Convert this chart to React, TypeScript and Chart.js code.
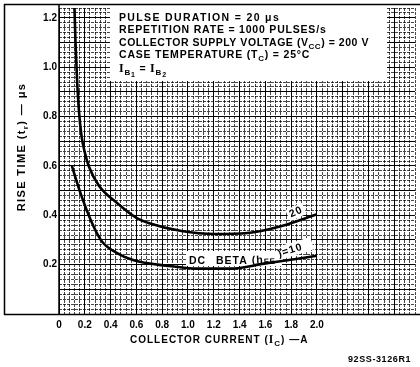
import React, { useEffect, useRef } from 'react';
import { Chart, registerables } from 'chart.js';

Chart.register(...registerables);

// ---- data ----
const currentBeta20 = [0.12, 0.128, 0.14, 0.155, 0.175, 0.2, 0.23, 0.31, 0.45, 0.6, 0.7, 0.95, 1.21, 1.46, 1.72, 2.0];
const riseBeta20 = [1.24, 1.1, 0.95, 0.82, 0.72, 0.655, 0.6, 0.52, 0.45, 0.39, 0.368, 0.336, 0.324, 0.328, 0.356, 0.404];
const currentBeta10 = [0.1, 0.16, 0.25, 0.33, 0.44, 0.58, 0.83, 1.08, 1.33, 1.59, 1.85, 2.0];
const riseBeta10 = [0.6, 0.5, 0.376, 0.296, 0.25, 0.218, 0.196, 0.184, 0.184, 0.204, 0.224, 0.236];

const xTickLabels = ['0', '0.2', '0.4', '0.6', '0.8', '1.0', '1.2', '1.4', '1.6', '1.8', '2.0'];
const yTickLabels = ['', '0.2', '0.4', '0.6', '0.8', '1.0', '1.2'];

const SANS = "'Liberation Sans', Arial, sans-serif";
const SERIF = "'Liberation Serif', 'Times New Roman', serif";

type Seg = { t: string; f: string; dy?: number };

function segWidth(ctx: CanvasRenderingContext2D, segs: Seg[]) {
  let w = 0;
  for (const s of segs) {
    ctx.font = s.f;
    w += ctx.measureText(s.t).width;
  }
  return w;
}

function drawSegs(ctx: CanvasRenderingContext2D, x: number, y: number, segs: Seg[]) {
  let cx = x;
  for (const s of segs) {
    ctx.font = s.f;
    ctx.fillText(s.t, cx, y + (s.dy || 0));
    cx += ctx.measureText(s.t).width;
  }
}

const M = `bold 10.5px ${SANS}`;
const SUB = `bold 8px ${SANS}`;
const SUB2 = `bold 7px ${SANS}`;
const IFONT = `bold 12px ${SERIF}`;

const annotations = {
  id: 'annotations',
  beforeDraw(chart: any) {
    const ctx = chart.ctx as CanvasRenderingContext2D;
    ctx.save();
    ctx.fillStyle = '#fff';
    ctx.fillRect(0, 0, chart.width, chart.height);
    ctx.restore();
  },
  beforeDatasetsDraw(chart: any) {
    const ctx = chart.ctx as CanvasRenderingContext2D;
    ctx.save();
    ctx.fillStyle = '#fff';
    // conditions box
    ctx.fillRect(110, 5, 277, 76);
    // label backgrounds
    ctx.fillRect(186, 251, 96, 15);
    ctx.save();
    ctx.translate(298, 248);
    ctx.rotate(-0.3);
    ctx.fillRect(-16, -7, 31, 13);
    ctx.restore();
    ctx.save();
    ctx.translate(296, 212);
    ctx.rotate(-0.42);
    ctx.fillRect(-9, -6, 18, 12);
    ctx.restore();
    ctx.restore();
  },
  afterDatasetsDraw(chart: any) {
    const ctx = chart.ctx as CanvasRenderingContext2D;
    const ls = (v: string) => {
      (ctx as any).letterSpacing = v;
    };
    ctx.save();
    ctx.fillStyle = '#000';
    ctx.textBaseline = 'alphabetic';
    ctx.textAlign = 'left';

    // conditions text
    const x0 = 119;
    ls('1.35px');
    drawSegs(ctx, x0, 21, [{ t: 'PULSE DURATION = 20 \u03bcs', f: M }]);
    ls('0.8px');
    drawSegs(ctx, x0, 33, [{ t: 'REPETITION RATE = 1000 PULSES/s', f: M }]);
    ls('0.55px');
    drawSegs(ctx, x0, 45.5, [
      { t: 'COLLECTOR SUPPLY VOLTAGE (V', f: M },
      { t: 'CC', f: SUB, dy: 3 },
      { t: ') = 200 V', f: M },
    ]);
    ls('0.8px');
    drawSegs(ctx, x0, 58, [
      { t: 'CASE TEMPERATURE (T', f: M },
      { t: 'C', f: SUB, dy: 3 },
      { t: ') = 25\u00b0C', f: M },
    ]);
    drawSegs(ctx, x0, 72, [
      { t: 'I', f: IFONT },
      { t: 'B', f: SUB, dy: 3 },
      { t: '1', f: SUB2, dy: 5 },
      { t: ' = ', f: M },
      { t: 'I', f: IFONT },
      { t: 'B', f: SUB, dy: 3 },
      { t: '2', f: SUB2, dy: 5 },
    ]);

    // x axis title
    ls('1px');
    drawSegs(ctx, 130, 343, [
      { t: 'COLLECTOR CURRENT (', f: `bold 10px ${SANS}` },
      { t: 'I', f: `bold 11.5px ${SERIF}` },
      { t: 'C', f: SUB, dy: 3 },
      { t: ') \u2014A', f: `bold 10px ${SANS}` },
    ]);

    // y axis title (rotated)
    ls('1.4px');
    const ySegs: Seg[] = [
      { t: 'RISE TIME (t', f: `bold 11px ${SANS}` },
      { t: 'r', f: SUB, dy: 3 },
      { t: ') \u2014 \u03bcs', f: `bold 11px ${SANS}` },
    ];
    const yw = segWidth(ctx, ySegs);
    ctx.save();
    ctx.translate(25, 147);
    ctx.rotate(-Math.PI / 2);
    drawSegs(ctx, -yw / 2, 0, ySegs);
    ctx.restore();

    // figure code
    ls('0.6px');
    drawSegs(ctx, 348, 362, [{ t: '92SS-3126R1', f: `bold 9px ${SANS}` }]);

    // curve labels
    ls('1px');
    ctx.save();
    ctx.translate(296, 212);
    ctx.rotate(-0.42);
    ctx.textAlign = 'center';
    ctx.textBaseline = 'middle';
    ctx.font = `bold 10.5px ${SANS}`;
    ctx.fillText('20', 0, 0);
    ctx.restore();

    drawSegs(ctx, 189, 264, [{ t: 'DC', f: `bold 10.5px ${SANS}` }]);
    drawSegs(ctx, 216, 264, [{ t: 'BETA', f: `bold 10.5px ${SANS}` }]);
    ctx.save();
    ctx.translate(252, 263.5);
    ctx.rotate(-0.06);
    drawSegs(ctx, 0, 0, [
      { t: '(h', f: `bold 10.5px ${SANS}` },
      { t: 'FE', f: SUB, dy: 1.5 },
    ]);
    ctx.restore();
    ctx.save();
    ctx.translate(279, 257);
    ctx.rotate(-0.3);
    drawSegs(ctx, 0, 0, [{ t: ')=10', f: `bold 10.5px ${SANS}` }]);
    ctx.restore();

    // frame
    ls('0px');
    ctx.strokeStyle = '#000';
    ctx.lineWidth = 1.5;
    ctx.beginPath();
    ctx.moveTo(4, 4.5);
    ctx.lineTo(420, 4.5);
    ctx.moveTo(4.5, 4);
    ctx.lineTo(4.5, 315);
    ctx.moveTo(4, 314.5);
    ctx.lineTo(420, 314.5);
    ctx.moveTo(59, 4);
    ctx.lineTo(59, 315);
    ctx.stroke();
    ctx.restore();
  },
};

export default function App() {
  const ref = useRef<HTMLCanvasElement | null>(null);

  useEffect(() => {
    if (!ref.current) return;
    const minor = 'rgba(0,0,0,0.72)';
    const chart = new Chart(ref.current, {
      type: 'line',
      data: {
        datasets: [
          {
            label: 'DC BETA 20',
            data: currentBeta20.map((x, i) => ({ x, y: riseBeta20[i] })),
            borderColor: '#000',
            borderWidth: 2.6,
            pointRadius: 0,
            cubicInterpolationMode: 'monotone',
            fill: false,
          },
          {
            label: 'DC BETA 10',
            data: currentBeta10.map((x, i) => ({ x, y: riseBeta10[i] })),
            borderColor: '#000',
            borderWidth: 2.6,
            pointRadius: 0,
            cubicInterpolationMode: 'monotone',
            fill: false,
          },
        ],
      },
      options: {
        responsive: false,
        maintainAspectRatio: false,
        devicePixelRatio: 1,
        animation: false,
        events: [],
        layout: { padding: { top: 4, right: 0, left: 0, bottom: 0 } },
        plugins: { legend: { display: false }, tooltip: { enabled: false } },
        scales: {
          x: {
            type: 'linear',
            min: 0,
            max: 2.76,
            afterFit: (s: any) => {
              s.height = 53;
            },
            grid: {
              drawTicks: false,
              color: (c: any) => (c.index % 5 === 0 ? '#000' : minor),
              lineWidth: 1,
            },
            border: {
              display: false,
              dash: (c: any) => (c.index % 5 === 0 ? [] : [3, 1]),
            },
            ticks: {
              stepSize: 0.04,
              autoSkip: false,
              maxRotation: 0,
              minRotation: 0,
              padding: 5,
              color: '#000',
              font: { family: SANS, size: 10, weight: 'bold' },
              callback: (_v: any, i: number) => (i % 5 === 0 ? xTickLabels[i / 5] ?? '' : ''),
            },
          },
          y: {
            type: 'linear',
            min: 0,
            max: 1.24,
            afterFit: (s: any) => {
              s.width = 59;
            },
            grid: {
              drawTicks: false,
              color: (c: any) => (c.index % 5 === 0 ? '#000' : minor),
              lineWidth: 1,
            },
            border: {
              display: false,
              dash: (c: any) => (c.index % 5 === 0 ? [] : [3, 1]),
            },
            ticks: {
              stepSize: 0.02,
              autoSkip: false,
              padding: 2,
              color: '#000',
              font: { family: SANS, size: 10, weight: 'bold' },
              callback: (_v: any, i: number) => (i % 10 === 0 ? yTickLabels[i / 10] ?? '' : ''),
            },
          },
        },
      },
      plugins: [annotations],
    } as any);
    return () => chart.destroy();
  }, []);

  return (
    <div style={{ position: 'fixed', left: 0, top: 0, width: 420, height: 367, background: '#fff' }}>
      <canvas ref={ref} width={420} height={367} style={{ display: 'block', width: 420, height: 367 }} />
    </div>
  );
}
